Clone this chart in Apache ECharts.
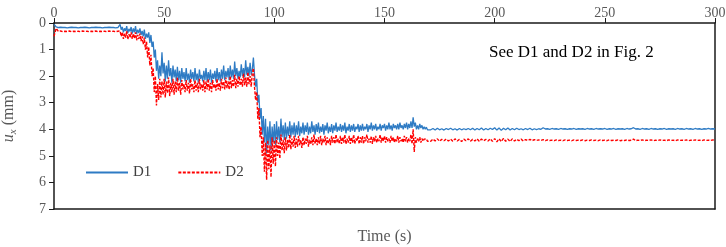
<!DOCTYPE html>
<html>
<head>
<meta charset="utf-8">
<script src="https://cdn.jsdelivr.net/npm/echarts@6/dist/echarts.min.js"></script>
<style>
  html, body { margin: 0; padding: 0; background: #fff; }
  #chart { width: 726px; height: 247px; }
</style>
</head>
<body>
<div id="chart"></div>
<script>
const xTicks = [0, 50, 100, 150, 200, 250, 300];
const yTicks = [0, 1, 2, 3, 4, 5, 6, 7];
const seriesNames = ['D1', 'D2'];

// 分段采样：0~29 s 每 1 s，30~169.5 s 每 0.5 s（振荡段），170~300 s 每 1 s
const earlyStart = 0, earlyStep = 1;
const midStart = 30, midStep = 0.5;
const lateStart = 170, lateStep = 1;

// D1 u_x (mm)
const d1Early = [
  0.05, 0.15, 0.17, 0.16, 0.17, 0.17, 0.18, 0.17, 0.16, 0.17, // 0
  0.17, 0.18, 0.17, 0.17, 0.16, 0.17, 0.18, 0.17, 0.17, 0.16, // 10
  0.17, 0.17, 0.18, 0.17, 0.17, 0.16, 0.17, 0.17, 0.18, 0.17  // 20
];
const d1Mid = [
  0.05, 0.25, 0.15, 0.35, 0.20, 0.30, 0.12, 0.38, 0.22, 0.32, // 30
  0.15, 0.40, 0.20, 0.35, 0.12, 0.42, 0.25, 0.38, 0.20, 0.45, // 35
  0.30, 0.50, 0.25, 0.60, 0.40, 0.55, 0.35, 0.75, 0.45, 0.90, // 40
  0.70, 1.30, 1.00, 1.80, 1.40, 2.10, 1.60, 2.00, 1.10, 1.90, // 45
  1.50, 2.20, 1.60, 2.10, 1.40, 2.00, 1.70, 2.25, 1.60, 2.05, // 50
  1.75, 2.20, 1.65, 2.15, 1.80, 2.25, 1.70, 2.10, 1.85, 2.20, // 55
  1.70, 2.15, 1.90, 2.25, 1.75, 2.10, 1.85, 2.20, 1.70, 2.15, // 60
  1.90, 2.25, 1.75, 2.10, 1.95, 2.20, 1.80, 2.15, 1.70, 2.20, // 65
  1.85, 2.15, 1.75, 2.25, 1.90, 2.10, 1.80, 2.20, 1.70, 2.15, // 70
  1.85, 2.20, 1.75, 2.10, 1.60, 2.15, 1.80, 2.05, 1.70, 2.15, // 75
  1.60, 2.05, 1.75, 2.10, 1.45, 2.00, 1.70, 2.10, 1.80, 2.05, // 80
  1.55, 2.00, 1.70, 2.05, 1.40, 1.95, 1.65, 2.00, 1.50, 1.95, // 85
  1.75, 1.30, 1.95, 2.40, 2.10, 3.00, 2.70, 3.60, 3.20, 4.20, // 90
  3.50, 4.50, 3.60, 4.90, 3.90, 4.60, 3.70, 4.80, 3.90, 4.50, // 95
  3.80, 4.60, 3.70, 4.40, 3.90, 4.50, 3.60, 4.30, 3.85, 4.40, // 100
  3.75, 4.35, 3.90, 4.25, 3.70, 4.30, 3.85, 4.20, 3.75, 4.30, // 105
  3.85, 4.20, 3.70, 4.25, 3.90, 4.15, 3.75, 4.20, 3.85, 4.10, // 110
  3.75, 4.20, 3.90, 4.15, 3.70, 4.10, 3.85, 4.20, 3.80, 4.10, // 115
  3.75, 4.15, 3.90, 4.10, 3.80, 4.20, 3.85, 4.05, 3.75, 4.15, // 120
  3.90, 4.10, 3.80, 4.15, 3.85, 4.05, 3.75, 4.10, 3.90, 4.05, // 125
  3.80, 4.10, 3.85, 4.05, 3.75, 4.15, 3.90, 4.05, 3.80, 4.10, // 130
  3.85, 4.05, 3.80, 4.10, 3.90, 4.00, 3.80, 4.10, 3.85, 4.05, // 135
  3.80, 4.05, 3.90, 4.00, 3.80, 4.10, 3.85, 4.00, 3.75, 4.05, // 140
  3.85, 4.00, 3.80, 4.05, 3.90, 4.00, 3.80, 4.05, 3.85, 3.95, // 145
  3.80, 4.05, 3.85, 4.00, 3.75, 4.00, 3.85, 4.05, 3.80, 3.95, // 150
  3.85, 4.00, 3.80, 4.00, 3.75, 3.95, 3.85, 4.00, 3.80, 3.95, // 155
  3.75, 4.00, 3.80, 3.95, 3.70, 3.95, 3.55, 3.90, 3.75, 4.00, // 160
  3.85, 4.00, 3.80, 3.95, 3.85, 4.00, 3.90, 4.00, 3.92, 4.02  // 165
];
const d1Late = [
  3.95, 4.02, 3.97, 4.03, 3.96, 4.02, 3.98, 4.03, 3.97, 4.01, // 170
  3.96, 4.02, 3.98, 4.03, 3.97, 4.02, 3.98, 4.01, 3.97, 4.02, // 180
  3.96, 4.03, 3.97, 4.02, 3.95, 4.03, 3.97, 4.02, 3.96, 4.01, // 190
  3.94, 4.03, 3.95, 4.04, 3.96, 4.02, 3.95, 4.03, 3.97, 4.02, // 200
  3.96, 4.01, 3.98, 4.02, 3.97, 4.01, 3.96, 4.02, 3.98, 4.01, // 210
  3.98, 4.00, 3.94, 3.99, 3.98, 4.00, 3.97, 3.99, 3.98, 4.00, // 220
  3.97, 3.99, 3.98, 4.00, 3.98, 3.99, 3.97, 4.00, 3.98, 3.99, // 230
  3.98, 4.00, 3.97, 3.99, 3.98, 4.00, 3.97, 3.99, 3.98, 3.99, // 240
  3.97, 4.00, 3.98, 3.99, 3.97, 4.00, 3.98, 3.99, 3.98, 4.00, // 250
  3.97, 3.99, 3.98, 3.94, 3.99, 3.98, 4.00, 3.97, 3.99, 3.98, // 260
  4.00, 3.97, 3.99, 3.98, 4.00, 3.98, 3.99, 3.97, 4.00, 3.98, // 270
  3.99, 3.98, 4.00, 3.97, 3.99, 3.98, 4.00, 3.97, 3.99, 3.98, // 280
  4.00, 3.97, 3.99, 3.98, 4.00, 3.98, 3.99, 3.97, 3.99, 3.98, // 290
  3.99                                                        // 300
];

// D2 u_x (mm)
const d2Early = [
  0.50, 0.20, 0.32, 0.30, 0.33, 0.31, 0.32, 0.30, 0.33, 0.31, // 0
  0.32, 0.31, 0.33, 0.30, 0.32, 0.31, 0.33, 0.31, 0.32, 0.30, // 10
  0.33, 0.31, 0.32, 0.31, 0.33, 0.30, 0.32, 0.31, 0.33, 0.31  // 20
];
const d2Mid = [
  0.30, 0.50, 0.35, 0.60, 0.40, 0.55, 0.30, 0.62, 0.42, 0.55, // 30
  0.35, 0.60, 0.40, 0.58, 0.35, 0.65, 0.45, 0.60, 0.40, 0.68, // 35
  0.50, 0.80, 0.55, 1.00, 0.70, 1.30, 0.90, 1.60, 1.20, 2.00, // 40
  1.70, 2.60, 2.00, 3.10, 2.30, 2.90, 2.10, 2.80, 2.20, 2.70, // 45
  2.10, 2.80, 2.20, 2.65, 2.05, 2.75, 2.25, 2.60, 2.10, 2.70, // 50
  2.20, 2.60, 2.05, 2.55, 2.25, 2.70, 2.15, 2.50, 2.30, 2.60, // 55
  2.15, 2.55, 2.25, 2.65, 2.10, 2.50, 2.30, 2.60, 2.15, 2.55, // 60
  2.25, 2.60, 2.10, 2.50, 2.30, 2.55, 2.15, 2.60, 2.20, 2.50, // 65
  2.10, 2.55, 2.25, 2.60, 2.15, 2.45, 2.30, 2.55, 2.10, 2.50, // 70
  2.25, 2.55, 2.10, 2.45, 2.20, 2.50, 2.05, 2.45, 2.20, 2.50, // 75
  2.00, 2.45, 2.15, 2.40, 1.95, 2.45, 2.10, 2.40, 2.00, 2.35, // 80
  2.10, 2.40, 1.90, 2.35, 2.05, 2.40, 1.85, 2.30, 2.00, 2.40, // 85
  1.90, 1.70, 2.40, 2.90, 2.60, 3.60, 3.20, 4.30, 3.90, 5.00, // 90
  4.30, 5.60, 4.50, 5.90, 4.40, 5.50, 4.60, 5.80, 4.30, 5.30, // 95
  4.40, 5.40, 4.30, 5.00, 4.50, 5.10, 4.20, 4.80, 4.40, 4.90, // 100
  4.30, 4.80, 4.40, 4.70, 4.20, 4.75, 4.35, 4.65, 4.25, 4.70, // 105
  4.35, 4.65, 4.25, 4.60, 4.40, 4.70, 4.30, 4.60, 4.35, 4.55, // 110
  4.25, 4.65, 4.40, 4.55, 4.30, 4.60, 4.20, 4.55, 4.35, 4.60, // 115
  4.30, 4.55, 4.25, 4.60, 4.35, 4.50, 4.25, 4.60, 4.30, 4.55, // 120
  4.35, 4.60, 4.25, 4.50, 4.30, 4.55, 4.20, 4.50, 4.35, 4.55, // 125
  4.25, 4.55, 4.30, 4.50, 4.20, 4.55, 4.35, 4.50, 4.25, 4.55, // 130
  4.30, 4.50, 4.20, 4.55, 4.35, 4.45, 4.25, 4.55, 4.30, 4.50, // 135
  4.25, 4.55, 4.30, 4.45, 4.20, 4.50, 4.35, 4.50, 4.25, 4.55, // 140
  4.30, 4.45, 4.25, 4.50, 4.35, 4.45, 4.20, 4.50, 4.30, 4.45, // 145
  4.25, 4.50, 4.30, 4.45, 4.35, 4.50, 4.25, 4.45, 4.30, 4.50, // 150
  4.35, 4.45, 4.25, 4.50, 4.30, 4.45, 4.35, 4.50, 4.25, 4.45, // 155
  4.30, 4.50, 4.35, 4.45, 4.20, 4.55, 4.00, 4.85, 4.30, 4.50, // 160
  4.35, 4.45, 4.30, 4.50, 4.35, 4.45, 4.37, 4.44, 4.36, 4.45  // 165
];
const d2Late = [
  4.38, 4.45, 4.37, 4.44, 4.36, 4.45, 4.38, 4.43, 4.37, 4.44, // 170
  4.37, 4.45, 4.36, 4.44, 4.38, 4.46, 4.37, 4.43, 4.36, 4.45, // 180
  4.38, 4.44, 4.36, 4.45, 4.37, 4.43, 4.38, 4.44, 4.36, 4.45, // 190
  4.35, 4.47, 4.36, 4.46, 4.34, 4.45, 4.37, 4.46, 4.36, 4.44, // 200
  4.38, 4.43, 4.37, 4.44, 4.39, 4.42, 4.38, 4.43, 4.39, 4.42, // 210
  4.40, 4.42, 4.39, 4.43, 4.40, 4.42, 4.41, 4.43, 4.40, 4.42, // 220
  4.41, 4.43, 4.40, 4.42, 4.41, 4.43, 4.40, 4.42, 4.41, 4.42, // 230
  4.40, 4.43, 4.41, 4.42, 4.40, 4.42, 4.41, 4.43, 4.40, 4.42, // 240
  4.41, 4.43, 4.40, 4.42, 4.41, 4.42, 4.40, 4.43, 4.41, 4.42, // 250
  4.40, 4.42, 4.41, 4.37, 4.43, 4.41, 4.42, 4.40, 4.43, 4.41, // 260
  4.42, 4.40, 4.43, 4.41, 4.42, 4.40, 4.42, 4.41, 4.43, 4.40, // 270
  4.42, 4.41, 4.43, 4.40, 4.42, 4.41, 4.42, 4.40, 4.43, 4.41, // 280
  4.42, 4.40, 4.42, 4.41, 4.43, 4.40, 4.42, 4.41, 4.42, 4.40, // 290
  4.41                                                        // 300
];

const serifFont = '"Liberation Serif", "Times New Roman", serif';
const axisColor = '#1a1a1a';
const labelColor = '#595959';

const chart = echarts.init(document.getElementById('chart'), null, {renderer: 'canvas'});

// 把一段等间隔采样转成 [t, u] 点
function segment(values, start, step) {
  return values.map((v, i) => [start + i * step, v]);
}

function buildSeriesData(early, mid, late) {
  return segment(early, earlyStart, earlyStep)
    .concat(segment(mid, midStart, midStep))
    .concat(segment(late, lateStart, lateStep));
}

function generateOption() {
  return {
    animation: false,
    grid: {left: 54, right: 11, top: 23, bottom: 38, containLabel: false, outerBoundsMode: 'none'},
    legend: {
      data: seriesNames,
      left: 80,
      top: 160,
      itemWidth: 42,
      itemHeight: 10,
      itemGap: 26,
      itemStyle: {opacity: 0},
      textStyle: {fontFamily: serifFont, fontSize: 15, color: '#404040'},
    },
    graphic: [{
      type: 'text',
      left: 489,
      top: 44,
      style: {text: 'See D1 and D2 in Fig. 2', font: '17px ' + serifFont, fill: '#000'},
    }],
    xAxis: [
      {
        type: 'value',
        position: 'top',
        min: xTicks[0],
        max: xTicks[xTicks.length - 1],
        interval: 50,
        axisLine: {show: true, onZero: false, lineStyle: {color: axisColor, width: 1.5}},
        axisTick: {show: true, length: 5, lineStyle: {color: axisColor}},
        axisLabel: {fontFamily: serifFont, fontSize: 14, color: labelColor, margin: 3},
        splitLine: {show: false},
      },
      {
        type: 'value',
        position: 'bottom',
        min: xTicks[0],
        max: xTicks[xTicks.length - 1],
        axisLine: {show: true, onZero: false, lineStyle: {color: axisColor, width: 1.5}},
        axisTick: {show: false},
        axisLabel: {show: false},
        splitLine: {show: false},
        name: 'Time (s)',
        nameLocation: 'middle',
        nameGap: 20,
        nameTextStyle: {fontFamily: serifFont, fontSize: 16, color: labelColor},
      },
    ],
    yAxis: [
      {
        type: 'value',
        inverse: true,
        position: 'left',
        min: yTicks[0],
        max: yTicks[yTicks.length - 1],
        interval: 1,
        axisLine: {show: true, onZero: false, lineStyle: {color: axisColor, width: 1.5}},
        axisTick: {show: true, length: 5, lineStyle: {color: axisColor}},
        axisLabel: {fontFamily: serifFont, fontSize: 14, color: labelColor, margin: 8},
        splitLine: {show: false},
        name: '{i|u}{s|x}{t| (mm)}',
        nameLocation: 'middle',
        nameRotate: 90,
        nameGap: 35,
        nameTextStyle: {
          color: labelColor,
          rich: {
            i: {fontFamily: serifFont, fontStyle: 'italic', fontSize: 16, color: labelColor, lineHeight: 20, verticalAlign: 'middle'},
            s: {fontFamily: serifFont, fontStyle: 'italic', fontSize: 11, color: labelColor, lineHeight: 20, verticalAlign: 'bottom', padding: [6, 0, 0, 0]},
            t: {fontFamily: serifFont, fontSize: 16, color: labelColor, lineHeight: 20, verticalAlign: 'middle'},
          },
        },
      },
      {
        type: 'value',
        inverse: true,
        position: 'right',
        min: yTicks[0],
        max: yTicks[yTicks.length - 1],
        axisLine: {show: true, onZero: false, lineStyle: {color: axisColor, width: 1.5}},
        axisTick: {show: false},
        axisLabel: {show: false},
        splitLine: {show: false},
      },
    ],
    series: [
      {
        name: 'D1',
        type: 'line',
        xAxisIndex: 0,
        yAxisIndex: 0,
        data: buildSeriesData(d1Early, d1Mid, d1Late),
        showSymbol: false,
        symbol: 'none',
        lineStyle: {color: '#2E7BC4', width: 1.3},
        itemStyle: {color: '#2E7BC4'},
      },
      {
        name: 'D2',
        type: 'line',
        xAxisIndex: 0,
        yAxisIndex: 0,
        data: buildSeriesData(d2Early, d2Mid, d2Late),
        showSymbol: false,
        symbol: 'none',
        lineStyle: {color: '#FF0000', width: 1.4, type: [3, 1.5]},
        itemStyle: {color: '#FF0000'},
      },
    ],
  };
}

chart.setOption(generateOption());
window.addEventListener('resize', () => chart.resize());
</script>
</body>
</html>
